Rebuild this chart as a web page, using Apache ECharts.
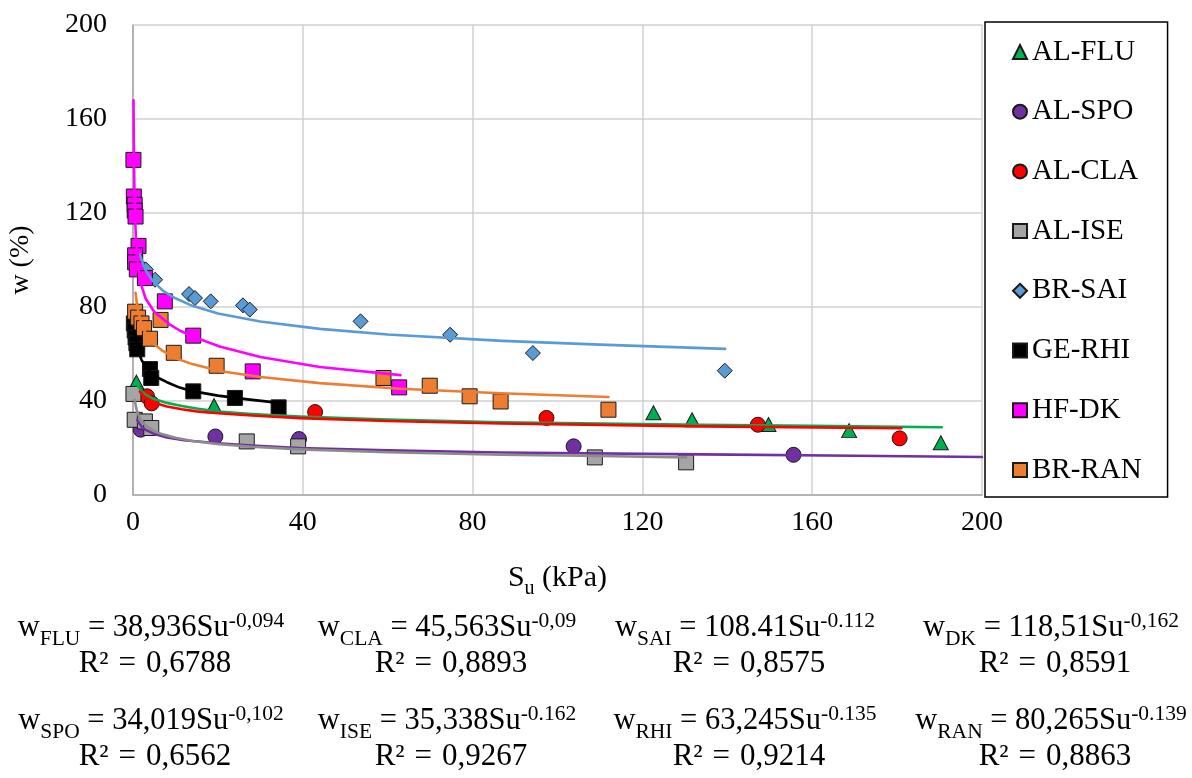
<!DOCTYPE html>
<html>
<head>
<meta charset="utf-8">
<script src="https://cdn.jsdelivr.net/npm/echarts@6/dist/echarts.min.js"></script>
<style>
html,body{margin:0;padding:0;background:#fff;}
#chart{width:1192px;height:778px;}
</style>
</head>
<body>
<div id="chart"></div>
<script>
// ---- data ----
const xTicks = [0, 40, 80, 120, 160, 200];
const yTicks = [0, 40, 80, 120, 160, 200];

const seriesNames = ['AL-FLU', 'AL-SPO', 'AL-CLA', 'AL-ISE', 'BR-SAI', 'GE-RHI', 'HF-DK', 'BR-RAN'];

// measured points [Su (kPa), w (%)]
const ptsFLU = [[0.8,48],[19.1,38],[122.6,35],[131.7,32],[149.7,30],[168.7,27.4],[190.3,22.2]];
const ptsSPO = [[1.8,27.8],[19.4,24.9],[39.1,23.8],[103.8,20.7],[155.6,17.1]];
const ptsCLA = [[3.3,42],[4.4,39],[42.9,35.3],[97.4,32.8],[147.2,29.9],[180.6,24.1]];
const ptsISE = [[0.1,43],[0.4,32],[2.8,31.3],[4.3,28.5],[26.8,22.8],[38.9,20.7],[108.8,16],[130.3,13.9]];
const ptsSAI = [[3,96],[5.2,91.6],[13.2,85.5],[14.6,83.8],[18.3,82.4],[25.9,80.7],[27.5,78.9],[53.6,73.9],[74.7,68.2],[94.2,60.4],[139.4,52.9]];
const ptsRHI = [[0.2,73],[0.4,70],[0.6,67],[0.8,64.5],[1,62],[4,53.6],[4.3,49.8],[14.2,44.1],[24,41.3],[34.3,37.3]];
const ptsDK  = [[0.1,142.6],[0.2,127],[0.4,123.5],[0.4,121],[0.6,118.5],[1.3,106],[0.5,102],[0.5,99],[0.9,96],[2.8,92.3],[7.5,82.4],[14.2,67.8],[28.2,52.6],[62.7,45.8]];
const ptsRAN = [[0.5,78],[1.2,75.5],[2,73],[2.6,71],[4,66.5],[6.5,74.5],[9.6,60.5],[19.7,55],[59,49.8],[69.9,46.5],[79.3,42],[86.6,39.8],[112,36.3]];

// trendlines, points
const fitFLU = [[0.8,47.5],[1.2,46.3],[2,44.2],[3,42.6],[5,40.8],[8,39.2],[11.5,37.9],[15,36.8],[20,35.5],[28,34.5],[39.3,33.4],[60,32.1],[86.6,30.9],[134,29.9],[160,29.4],[190.5,28.8]];
const fitSPO = [[1,32],[1.5,30.4],[2,29.2],[3,27.7],[5,26],[8,24.5],[12,23.3],[20,22],[28,21],[39.3,20],[60,19],[86.6,18.1],[134,17.3],[170,16.7],[200,16.2]];
const fitCLA = [[1.6,44],[2.2,42.8],[3,41.2],[4,40.1],[5,39.3],[8,37.7],[11.5,36.5],[15,35.6],[20,34.8],[28,33.8],[39.3,32.7],[60,31.5],[86.6,30.4],[134,29.2],[181,28.4]];
const fitISE = [[0.4,40.5],[0.7,37.5],[1,35.3],[1.5,33.1],[2,31.4],[3,29.5],[4.7,27.4],[7,25.8],[10,24.4],[14,23],[20.4,21.6],[28,20.5],[39.3,19.4],[60,18.2],[86.6,17.1],[110,16.6],[130.3,16]];
const fitSAI = [[1.6,102.5],[2.2,99.2],[3,95.5],[4.7,91],[7,87],[10,83.7],[14,80.5],[20,77.2],[30,73.8],[44,70.7],[60,68.3],[87,65.6],[110,64],[139.5,62.2]];
const fitRHI = [[0.4,70],[0.7,66],[1,63],[1.5,60],[2,57.5],[3,54.6],[4,52.5],[6,49.8],[8,48],[11,45.7],[14,44.2],[20,42.3],[27,40.7],[35,39.1]];
const fitDK  = [[0.12,168],[0.18,152],[0.25,140],[0.35,128],[0.5,118],[0.7,109],[1,102],[1.4,95],[2,89],[3,83.5],[5,78],[8.7,72.5],[11,70],[14,67.5],[20.4,63.2],[30,58.7],[44,54.5],[63,51]];
const fitRAN = [[0.6,86],[1,80.3],[1.5,76],[2,72.8],[3,68.7],[4.7,64.7],[7,61.3],[10,58.2],[14,55.7],[20.4,52.8],[30,50.2],[44,47.6],[63,45.2],[86.6,43.3],[112,41.7]];

// equation labels shown under the chart
const eqSub   = ['FLU', 'CLA', 'SAI', 'DK', 'SPO', 'ISE', 'RHI', 'RAN'];
const eqCoef  = ['38,936', '45,563', '108.41', '118,51', '34,019', '35,338', '63,245', '80,265'];
const eqExp   = ['-0,094', '-0,09', '-0.112', '-0,162', '-0,102', '-0.162', '-0.135', '-0.139'];
const eqR2    = ['0,6788', '0,8893', '0,8575', '0,8591', '0,6562', '0,9267', '0,9214', '0,8863'];

// ---- styling ----
const FONT = "'Liberation Serif', 'Times New Roman', serif";
const colors = ['#00B050', '#7030A0', '#FF0000', '#A5A5A5', '#5B9BD5', '#000000', '#FF00FF', '#ED7D31'];
const lineColors = ['#00B050', '#7030A0', '#FF0000', '#8C8C8C', '#5B9BD5', '#000000', '#FF00FF', '#ED7D31'];
const symbols = ['triangle', 'circle', 'circle', 'rect', 'diamond', 'rect', 'rect', 'rect'];
const symSizes = [[15,14], 15, 15, 15, 15, 15, 15, 15];
const pts = [ptsFLU, ptsSPO, ptsCLA, ptsISE, ptsSAI, ptsRHI, ptsDK, ptsRAN];
const fits = [fitFLU, fitSPO, fitCLA, fitISE, fitSAI, fitRHI, fitDK, fitRAN];

const series = [];
seriesNames.forEach((n, i) => {
  series.push({
    name: n, type: 'scatter', data: pts[i],
    symbol: symbols[i], symbolSize: symSizes[i],
    itemStyle: { color: colors[i], borderColor: '#1a1a1a', borderWidth: 1, opacity: 1 },
    z: 2 + i * 0.01
  });
});
seriesNames.forEach((n, i) => {
  series.push({
    name: 'fit ' + n, type: 'line', data: fits[i],
    smooth: false, showSymbol: false, symbol: 'none',
    lineStyle: { color: lineColors[i], width: 2.6, join: 'round', cap: 'round' },
    z: 5
  });
});

const EQ_FS = 30.5;
const graphics = [];
const colX = [151, 447, 745, 1051];
const rowY = [629, 722];
eqSub.forEach((s, k) => {
  const cx = colX[k % 4];
  const cy = rowY[Math.floor(k / 4)];
  graphics.push({
    type: 'text', x: cx, y: cy,
    style: {
      text: '{m|w}{s|' + s + '}{m| = ' + eqCoef[k] + 'Su}{p|' + eqExp[k] + '}',
      align: 'center', verticalAlign: 'middle', fill: '#000',
      rich: {
        m: { fontSize: EQ_FS, fontFamily: FONT, lineHeight: 33, verticalAlign: 'top', fill: '#000' },
        s: { fontSize: 21.5, fontFamily: FONT, lineHeight: 21, verticalAlign: 'top', padding: [16, 0, 0, 0], fill: '#000' },
        p: { fontSize: 21.5, fontFamily: FONT, lineHeight: 21, verticalAlign: 'top', padding: [-2, 0, 0, 0], fill: '#000' }
      }
    }
  });
  graphics.push({
    type: 'text', x: cx + 4, y: cy + 35,
    style: {
      text: '{r|R²}{g|}{r|=}{g|}{r|' + eqR2[k] + '}', align: 'center', verticalAlign: 'middle', fill: '#000',
      rich: {
        r: { fontSize: 31, fontFamily: FONT, fill: '#000' },
        g: { width: 10 }
      }
    }
  });
});

const chart = echarts.init(document.getElementById('chart'), null, { renderer: 'canvas' });
chart.setOption({
  animation: false,
  backgroundColor: '#fff',
  grid: { left: 133, right: 210, top: 25, bottom: 283, containLabel: false, outerBoundsMode: 'none' },
  xAxis: {
    type: 'value', min: xTicks[0], max: xTicks[xTicks.length - 1], interval: 40,
    axisLine: { show: true, onZero: false, lineStyle: { color: '#A6A6A6', width: 1.5 } },
    axisTick: { show: false },
    splitLine: { show: true, lineStyle: { color: '#D0D0D0', width: 1.5 } },
    axisLabel: { fontSize: 28, fontFamily: FONT, color: '#000', margin: 14 },
    name: '{a|S}{b|u}{a| (kPa)}', nameLocation: 'middle', nameGap: 68,
    nameTextStyle: {
      color: '#000',
      rich: {
        a: { fontSize: 30, fontFamily: FONT, lineHeight: 32, verticalAlign: 'top', color: '#000' },
        b: { fontSize: 20, fontFamily: FONT, lineHeight: 20, verticalAlign: 'top', padding: [16, 0, 0, 0], color: '#000' }
      }
    }
  },
  yAxis: {
    type: 'value', min: yTicks[0], max: yTicks[yTicks.length - 1], interval: 40,
    axisLine: { show: true, onZero: false, lineStyle: { color: '#A6A6A6', width: 1.5 } },
    axisTick: { show: false },
    splitLine: { show: true, lineStyle: { color: '#D0D0D0', width: 1.5 } },
    axisLabel: { fontSize: 28, fontFamily: FONT, color: '#000', margin: 26 },
    name: 'w (%)', nameLocation: 'middle', nameGap: 98, nameRotate: 90,
    nameTextStyle: { fontSize: 28, fontFamily: FONT, color: '#000' }
  },
  legend: {
    data: seriesNames, orient: 'vertical', left: 985, top: 22,
    padding: [15, 26, 12, 27], itemGap: 29.7, itemWidth: 14, itemHeight: 14,
    borderColor: '#000', borderWidth: 1.5, backgroundColor: '#fff',
    textStyle: { fontSize: 29, fontFamily: FONT, color: '#000', lineHeight: 30 },
    selectedMode: false
  },
  graphic: graphics,
  series: series
});
</script>
</body>
</html>
